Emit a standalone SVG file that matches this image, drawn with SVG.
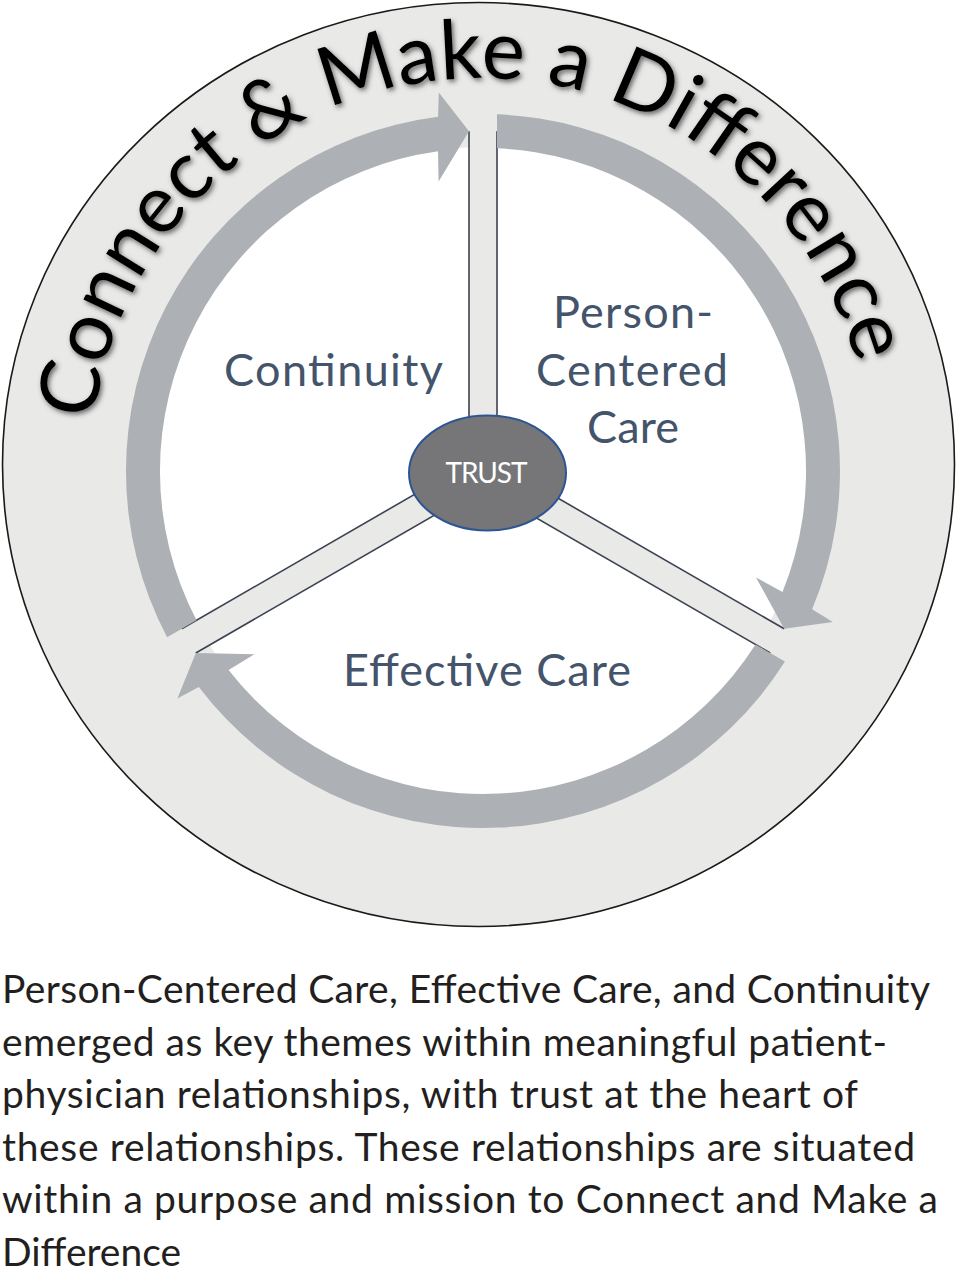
<svg xmlns="http://www.w3.org/2000/svg" width="957" height="1280" viewBox="0 0 957 1280">
  <defs>
    <style>
      .band { fill: #adb0b5; }
      .spoke { fill: #e9e9e8; }
      .edge { stroke: #3b4250; stroke-width: 1.6; fill: none; }
      .label { font-family: Lato, "Open Sans", sans-serif; font-size: 45px; fill: #44546a; }
      .body { font-family: Lato, "Open Sans", sans-serif; font-size: 39px; fill: #231f20; }
      .title { font-family: Lato, "Open Sans", sans-serif; font-size: 82px; fill: #000000; }
    </style>
    <filter id="shadow" x="-10%" y="-10%" width="120%" height="120%">
      <feDropShadow dx="2" dy="2.5" stdDeviation="2.5" flood-color="#3a3a3a" flood-opacity="0.75"/>
    </filter>
    <path id="titleArc" d="M 93.9,420.5 A 390 390 0 0 1 857.7,367.1"/>
  </defs>

  <rect width="957" height="1280" fill="#ffffff"/>

  <g id="wheel">
    <ellipse cx="478.5" cy="464.5" rx="476" ry="462" fill="#e9e9e8" stroke="#1a1a1a" stroke-width="1.6"/>
    <circle cx="483" cy="471" r="324" fill="#ffffff"/>
  </g>

  <g id="title" filter="url(#shadow)">
    <text class="title"><textPath href="#titleArc" textLength="1072" lengthAdjust="spacing">Connect &amp; Make a Difference</textPath></text>
  </g>

  <g id="connectors">
    <g id="spokes">
      <polygon class="spoke" points="469,471 497,471 497,126 469,126"/>
      <polygon class="spoke" points="490,458.9 788.8,631.4 774.8,655.6 476,483.1"/>
      <polygon class="spoke" points="476,458.9 177.2,631.4 191.2,655.6 490,483.1"/>
      <line class="edge" x1="469" y1="471" x2="469" y2="131.3"/>
      <line class="edge" x1="497" y1="471" x2="497" y2="131.3"/>
      <line class="edge" x1="490" y1="458.9" x2="784.2" y2="628.8"/>
      <line class="edge" x1="476" y1="483.1" x2="770.2" y2="653.0"/>
      <line class="edge" x1="476" y1="458.9" x2="181.8" y2="628.8"/>
      <line class="edge" x1="490" y1="483.1" x2="195.8" y2="653.0"/>
    </g>
    <g id="arrows">
      <path class="band" d="M 497,114.3 A 357 357 0 0 1 812.1,609.3 L 832.8,622.0 L 784.2,628.8 L 756.0,577.4 L 782.5,592.0 A 323 323 0 0 0 497,148.3 Z"/>
      <path class="band" d="M 784.9,661.5 A 357 357 0 0 1 198.8,687.0 L 177.4,698.6 L 195.8,653.0 L 254.4,654.3 L 228.6,670.0 A 323 323 0 0 0 755.5,644.4 Z"/>
      <path class="band" d="M 167.1,637.3 A 357 357 0 0 1 438.1,116.8 L 438.8,92.6 L 469,131.3 L 438.6,181.4 L 438.0,151.2 A 323 323 0 0 0 196.5,620.3 Z"/>
    </g>
  </g>

  <g id="node-trust">
    <ellipse cx="487.5" cy="473" rx="78.5" ry="57.5" fill="#767679" stroke="#2e5593" stroke-width="2"/>
    <text x="486.5" y="483" text-anchor="middle" font-family="Lato, 'Open Sans', sans-serif" font-size="28" fill="#ffffff" textLength="82" lengthAdjust="spacing">TRUST</text>
  </g>

  <g id="node-continuity">
    <text class="label" x="224" y="386" textLength="219" lengthAdjust="spacing">Continuity</text>
  </g>

  <g id="node-person-centered-care">
    <text class="label" x="633" y="328" text-anchor="middle" textLength="160" lengthAdjust="spacing">Person-</text>
    <text class="label" x="632" y="386" text-anchor="middle" textLength="192" lengthAdjust="spacing">Centered</text>
    <text class="label" x="633" y="443" text-anchor="middle" textLength="92" lengthAdjust="spacing">Care</text>
  </g>

  <g id="node-effective-care">
    <text class="label" x="343" y="686" textLength="288" lengthAdjust="spacing">Effective Care</text>
  </g>

  <g id="caption">
    <text class="body" x="2" y="1003" textLength="928" lengthAdjust="spacing">Person-Centered Care, Effective Care, and Continuity</text>
    <text class="body" x="2" y="1056" textLength="885" lengthAdjust="spacing">emerged as key themes within meaningful patient-</text>
    <text class="body" x="2" y="1108" textLength="856" lengthAdjust="spacing">physician relationships, with trust at the heart of</text>
    <text class="body" x="2" y="1161" textLength="913" lengthAdjust="spacing">these relationships. These relationships are situated</text>
    <text class="body" x="2" y="1213" textLength="936" lengthAdjust="spacing">within a purpose and mission to Connect and Make a</text>
    <text class="body" x="2" y="1266" textLength="179" lengthAdjust="spacing">Difference</text>
  </g>
</svg>
